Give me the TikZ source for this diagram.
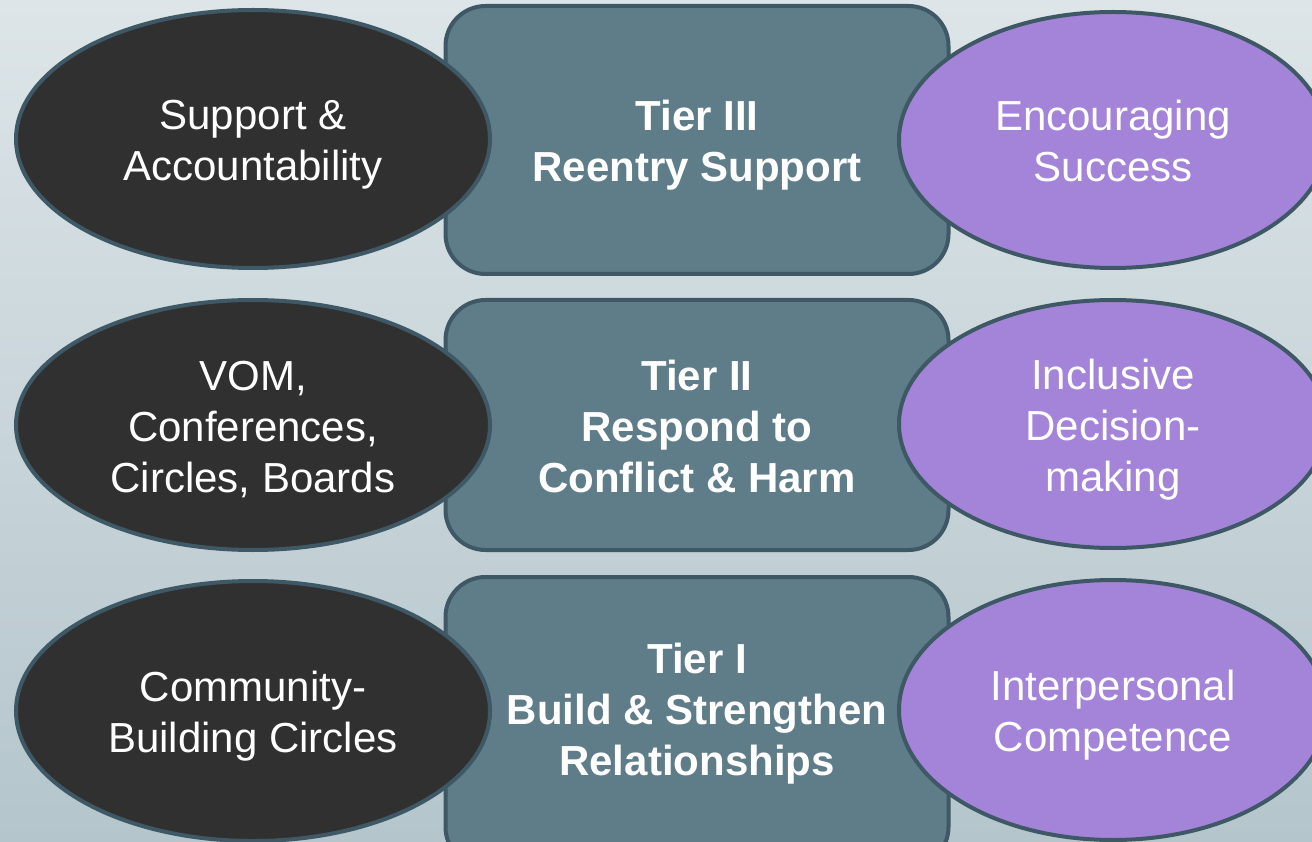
\documentclass[tikz,border=0pt]{standalone}
\usepackage{fontspec}
\setmainfont{Liberation Sans}
\usetikzlibrary{shapes.geometric}
\definecolor{bgtop}{HTML}{DDE5E8}
\definecolor{bgbot}{HTML}{B4C5CC}
\definecolor{edge}{HTML}{3E5865}
\definecolor{tierfill}{HTML}{5F7C89}
\definecolor{darkfill}{HTML}{303030}
\definecolor{purplefill}{HTML}{A384D8}
\newcommand\ls{\rule[-9pt]{0pt}{50pt}}
\tikzset{
  tierbox/.style={draw=edge, line width=4pt, fill=tierfill, rounded corners=40pt,
    minimum width=503pt, inner sep=0pt, text=white, align=center,
    font=\fontsize{42}{51}\selectfont\bfseries},
  tiertext/.style={inner sep=0pt, text=white, align=center,
    font=\fontsize{42}{51}\selectfont\bfseries},
  darkoval/.style={ellipse, draw=edge, line width=4pt, fill=darkfill, minimum width=474pt,
    inner sep=0pt, text=white, align=center, font=\fontsize{42}{51}\selectfont},
  purpleoval/.style={ellipse, draw=edge, line width=4pt, fill=purplefill, minimum width=428pt,
    inner sep=0pt, text=white, align=center, font=\fontsize{42}{51}\selectfont}
}
\begin{document}
\begin{tikzpicture}[x=1pt,y=-1pt]
\useasboundingbox (0,0) rectangle (1312,842);
\clip (0,0) rectangle (1312,842);
\shade[top color=bgtop, bottom color=bgbot] (0,0) rectangle (1312,842);
% tier boxes
\node[tierbox, minimum height=268pt] (t3) at (697,140) {\ls Tier III\\\ls Reentry Support};
\node[tierbox, minimum height=250pt] (t2) at (697,425) {\ls Tier II\\\ls Respond to\\\ls Conflict \& Harm};
\node[tierbox, minimum height=290pt] (t1) at (697,722) {};
\node[tiertext] (t1txt) at (697,708) {\ls Tier I\\\ls Build \& Strengthen\\\ls Relationships};
% left ovals
\node[darkoval, minimum height=258pt] (l3) at (253,139) {\ls Support \&\\\ls Accountability};
\node[darkoval, minimum height=250pt] (l2) at (253,425) {\ls VOM,\\\ls Conferences,\\\ls Circles, Boards};
\node[darkoval, minimum height=260pt] (l1) at (253,711) {\ls Community-\\\ls Building Circles};
% right ovals
\node[purpleoval, minimum height=256pt] (r3) at (1113,140) {\ls Encouraging\\\ls Success};
\node[purpleoval, minimum height=248pt] (r2) at (1113,424) {\ls Inclusive\\\ls Decision-\\\ls making};
\node[purpleoval, minimum height=260pt] (r1) at (1113,710) {\ls Interpersonal\\\ls Competence};
\end{tikzpicture}
\end{document}
